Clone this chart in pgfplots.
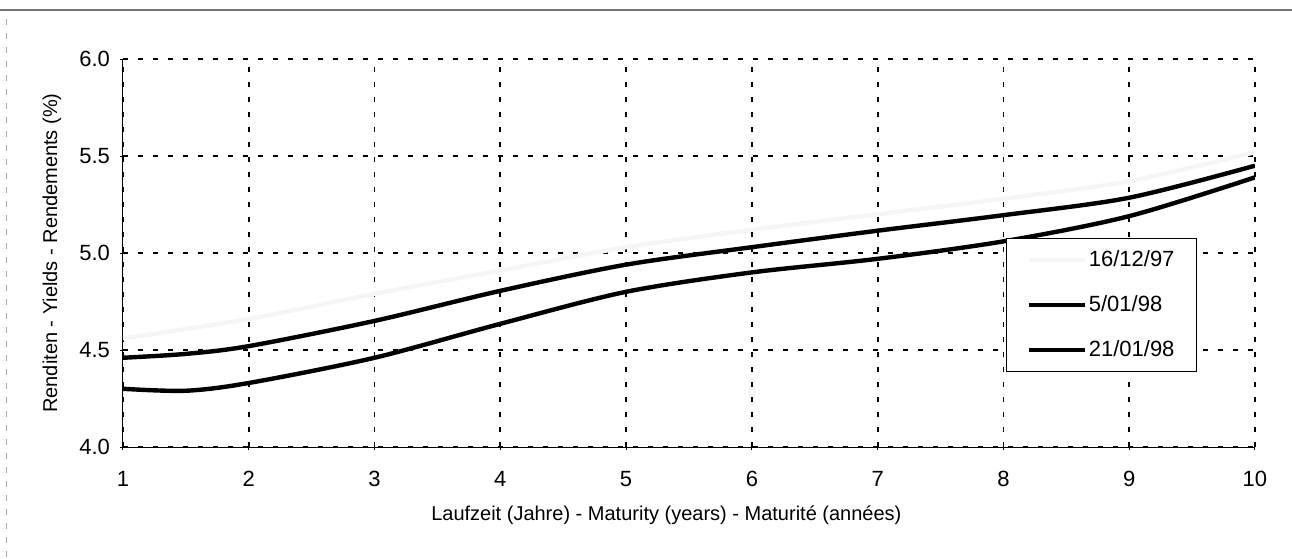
\documentclass[border=0pt]{standalone}
\usepackage{fontspec}
\setmainfont{Liberation Sans}
\usepackage{pgfplots}
\pgfplotsset{compat=1.18}

% yield curves, values
\pgfplotstableread{
x    y
1    4.56
2    4.66
3    4.79
4    4.91
5    5.03
6    5.12
7    5.20
8    5.28
9    5.37
10   5.52
}\dec
\pgfplotstableread{
x    y
1    4.46
1.5  4.48
2    4.52
3    4.65
4    4.805
5    4.94
6    5.03
7    5.115
8    5.195
9    5.285
10   5.45
}\janA
\pgfplotstableread{
x    y
1    4.30
1.5  4.29
2    4.33
3    4.46
4    4.635
5    4.80
6    4.90
7    4.97
8    5.06
9    5.19
10   5.39
}\janB

\newcommand\fs{\fontsize{11}{13.2}\selectfont}

\begin{document}
\begin{tikzpicture}
\useasboundingbox (-61.5pt,-55.5pt) rectangle (584.5pt,223.5pt);
% remains of the page frame
\draw[black!55, line width=0.6pt] (-61.5pt,218.5pt) -- (584.5pt,218.5pt);
\draw[black!35, line width=0.5pt, dash pattern=on 3pt off 4pt] (-58pt,214pt) -- (-58pt,-55pt);
\begin{axis}[
    scale only axis,
    width=566pt, height=194pt,
    xmin=1, xmax=10, ymin=4, ymax=6,
    xtick={1,...,10},
    ytick={4,4.5,...,6},
    yticklabel style={xshift=-1.5pt, /pgf/number format/fixed,
        /pgf/number format/fixed zerofill, /pgf/number format/precision=1},
    /pgf/number format/assume math mode=true,
    ticklabel style={font=\fs},
    xticklabel style={anchor=base, yshift=-18pt},
    axis x line*=bottom, axis y line*=left,
    axis line style={-, line width=0.5pt},
    tick align=center, major tick length=3pt,
    tick style={black, line width=0.5pt},
    grid=major,
    grid style={black, line width=0.9pt, dash pattern=on 2.5pt off 5pt},
    xlabel={Laufzeit (Jahre) - Maturity (years) - Maturité (années)},
    ylabel={Renditen - Yields - Rendements (\%)},
    label style={font=\fs},
    every axis x label/.style={at={(axis description cs:0.48,-0.19)}, anchor=base},
    every axis y label/.style={at={(axis description cs:-0.0627,0.5)}, rotate=90, anchor=center},
    legend cell align=left,
    legend image code/.code={\draw[#1] (0pt,0pt) -- (28pt,0pt);},
    legend style={at={(0.780,0.5387)}, anchor=north west, draw=black,
        line width=0.5pt, font=\fs, inner xsep=10pt, inner ysep=5pt,
        row sep=11pt, nodes={inner sep=1pt}},
]
\addplot[black!4, line width=2.2pt, smooth] table[x=x, y=y] {\dec};
\addplot[black, line width=2.2pt, smooth] table[x=x, y=y] {\janA};
\addplot[black, line width=2.2pt, smooth] table[x=x, y=y] {\janB};
\legend{16/12/97, 5/01/98, 21/01/98}
\end{axis}
\end{tikzpicture}
\end{document}
